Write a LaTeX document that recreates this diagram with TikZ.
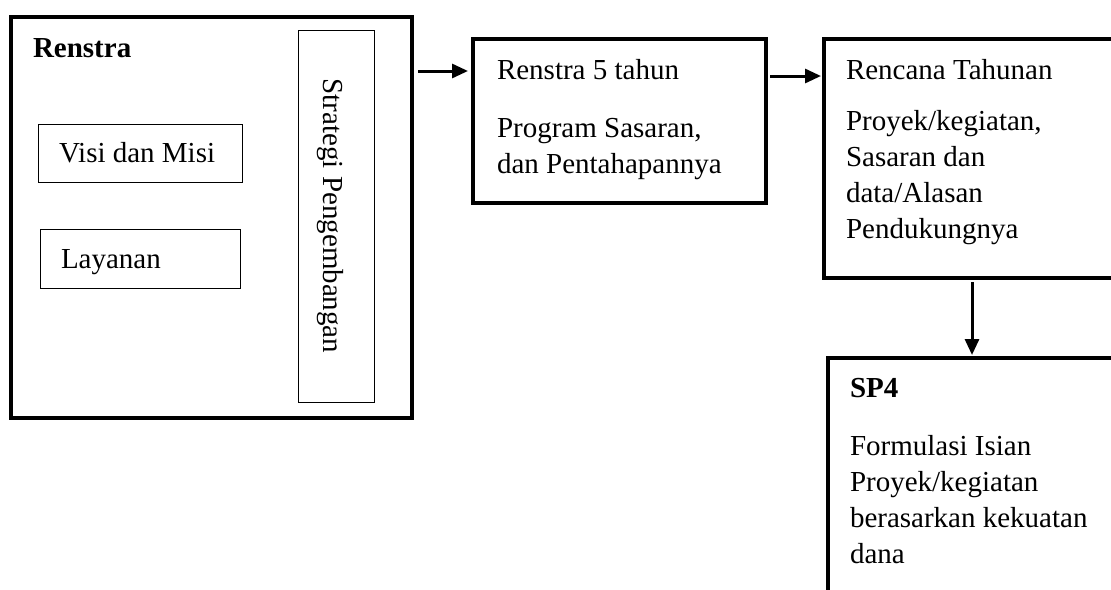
\documentclass[tikz,border=0pt]{standalone}
\usepackage{fontspec}
\setmainfont{Liberation Serif}
\usetikzlibrary{arrows.meta}
\begin{document}
\begin{tikzpicture}[x=1pt,y=-1pt,
  every node/.style={font=\fontsize{29}{36}\selectfont, inner sep=0pt, outer sep=0pt},
  bigbox/.style={draw, line width=3.5pt, anchor=north west},
  smallbox/.style={draw, line width=1pt, anchor=north west},
  txt/.style={anchor=base west, align=left},
  flow/.style={line width=3pt, -{Triangle[length=16pt,width=14pt]}}
]
\clip (0,0) rectangle (1111,589);
\fill[white] (0,0) rectangle (1111,589);

% Renstra block with its inner boxes
\node[bigbox, minimum width=401pt, minimum height=401pt] (renstra) at (11,17) {};
\node[txt, font=\fontsize{29}{36}\selectfont\bfseries] (renstralbl) at (33,57) {Renstra};
\node[smallbox, minimum width=204pt, minimum height=58pt] (visibox) at (38,124) {};
\node[txt] (visi) at (59,162) {Visi dan Misi};
\node[smallbox, minimum width=200pt, minimum height=59pt] (layananbox) at (40,229) {};
\node[txt] (layanan) at (61,268) {Layanan};
\node[smallbox, minimum width=76pt, minimum height=372pt] (stratbox) at (298,30) {};
\node[rotate=-90] (strat) at (330,216) {Strategi Pengembangan};

% Renstra 5 tahun
\node[bigbox, minimum width=293pt, minimum height=164pt] (r5) at (473,39) {};
\node[txt] (r5a) at (497,79) {Renstra 5 tahun};
\node[txt] (r5b) at (497,137) {Program Sasaran,};
\node[txt] (r5c) at (497,173) {dan Pentahapannya};

% Rencana Tahunan
\node[bigbox, minimum width=320pt, minimum height=239pt] (rt) at (824,39) {};
\node[txt] (rta) at (846,79) {Rencana Tahunan};
\node[txt] (rtb) at (846,130) {Proyek/kegiatan,};
\node[txt] (rtc) at (846,166) {Sasaran dan};
\node[txt] (rtd) at (846,202) {data/Alasan};
\node[txt] (rte) at (846,238) {Pendukungnya};

% SP4
\node[bigbox, minimum width=320pt, minimum height=300pt] (sp) at (828,358) {};
\node[txt, font=\fontsize{29}{36}\selectfont\bfseries] (spa) at (850,397) {SP4};
\node[txt] (spb) at (850,455) {Formulasi Isian};
\node[txt] (spc) at (850,491) {Proyek/kegiatan};
\node[txt] (spd) at (850,527) {berasarkan kekuatan};
\node[txt] (spe) at (850,563) {dana};

% connectors
\coordinate (a1) at (0,71);
\coordinate (a2) at (0,76);
\coordinate (a3) at (972,0);
\draw[flow, shorten <=6pt, shorten >=5pt] (renstra.east |- a1) -- (r5.west |- a1);
\draw[flow, shorten <=4pt, shorten >=3pt] (r5.east |- a2) -- (rt.west |- a2);
\draw[flow, shorten <=4pt, shorten >=3pt] (rt.south -| a3) -- (sp.north -| a3);
\end{tikzpicture}
\end{document}
